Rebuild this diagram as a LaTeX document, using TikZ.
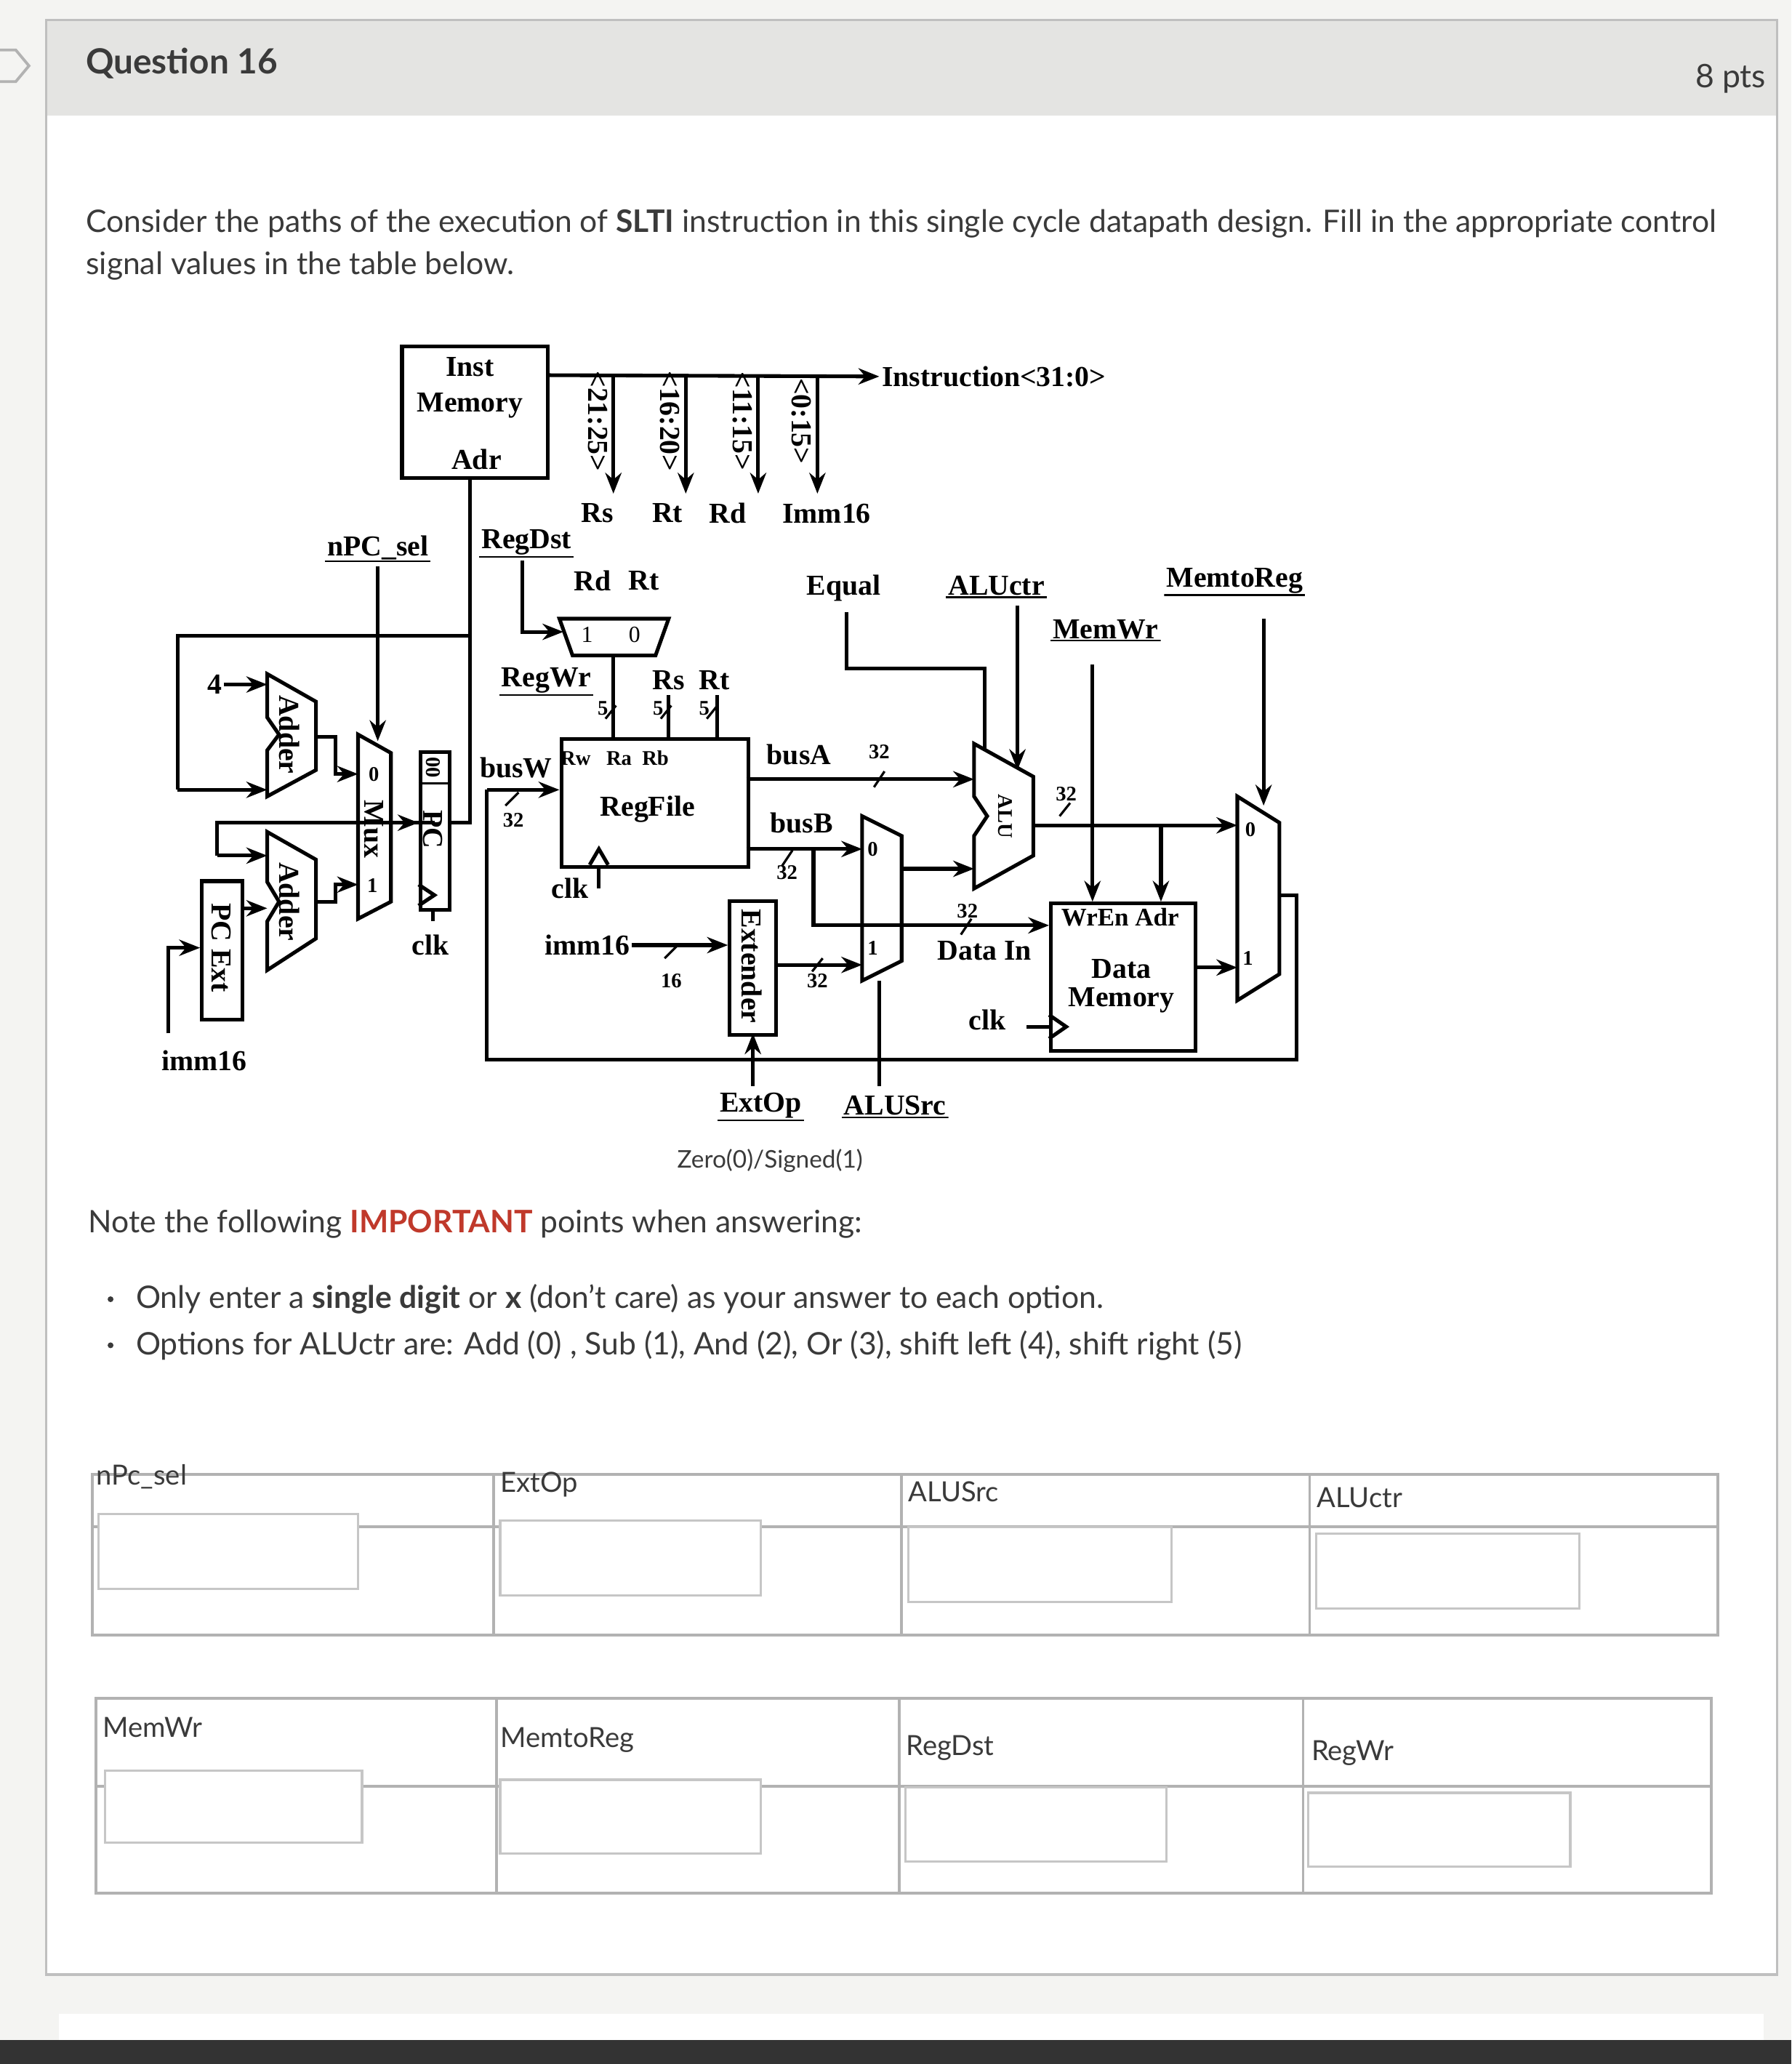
\documentclass[tikz,border=0pt]{standalone}
\usepackage{fontspec}
\setmainfont{Lato}
\newfontfamily\dg{Liberation Serif}
\usetikzlibrary{arrows.meta}
\definecolor{pagebg}{HTML}{F4F4F2}
\definecolor{hdr}{HTML}{E4E4E2}
\definecolor{txt}{HTML}{3A3A3A}
\definecolor{imp}{HTML}{C0392B}
\tikzset{
 w/.style={line width=1.6pt,black},
 ar/.style={w,-{Stealth[length=9pt,width=7pt]}},
 lb/.style={font=\dg\bfseries\fontsize{12.5}{13}\selectfont,inner sep=1pt},
 sm/.style={font=\dg\bfseries\fontsize{9}{10}\selectfont,inner sep=1pt},
 ul/.style={lb,path picture={\draw[w,line width=1.2pt] (path picture bounding box.south west)--(path picture bounding box.south east);}},
 pt/.style={font=\fontsize{13.4}{15}\selectfont,text=txt,inner sep=0pt,anchor=west},
 hd/.style={font=\fontsize{12}{14}\selectfont,text=txt,inner sep=0pt,anchor=west},
 inbox/.style={draw=gray!45,line width=1pt,fill=white},
 tb/.style={draw=gray!60,line width=1.2pt}
}
\begin{document}
\begin{tikzpicture}[x=0.02cm,y=-0.02cm]
\useasboundingbox (0,0) rectangle (1361,1568);
\fill[pagebg] (0,0) rectangle (1361,1568);
\fill[white] (35,15) rectangle (1350,1500);
\fill[hdr] (35,15) rectangle (1350,88);
\draw[gray!50,line width=1pt] (35,15) rectangle (1350,1500);
\draw[gray!60,line width=1.2pt] (0,38)--(12,38)--(22,50)--(12,62)--(0,62);
\fill[black!80] (0,1550) rectangle (1361,1568);
\fill[white] (45,1530) rectangle (1340,1550);
\node[pt,font=\bfseries\fontsize{15}{16}\selectfont] (q) at (65,48) {Question 16};
\node[pt,font=\fontsize{14}{15}\selectfont,anchor=east] (pts) at (1342,60) {8 pts};
\node[pt] (p1) at (65,170) {Consider the paths of the execution of \textbf{SLTI} instruction in this single cycle datapath design. Fill in the appropriate control};
\node[pt] (p2) at (65,202) {signal values in the table below.};

% ---------- diagram ----------
\begin{scope}[font=\dg]
\node[draw,w,minimum width=2.22cm,minimum height=2cm,anchor=north west] (im) at (304,262) {};
\node[lb] (imt) at (357,279) {Inst};
\node[lb] (imm) at (357,308) {Memory};
\node[lb] (ima) at (362,349) {Adr};
\node[lb,anchor=west] (instr) at (668,286) {Instruction<31:0>};
\draw[ar] (415,285)--(instr.west);
\foreach \x/\t in {458/<21:25>,513/<16:20>,568/<11:15>,613/<0:15>}{
 \draw[ar] (\x+8,285)--(\x+8,375);
 \node[lb,rotate=-90] at (\x-4,320) {\t};}
\node[lb] (rs0) at (454,390) {Rs};
\node[lb] (rt0) at (507,390) {Rt};
\node[lb] (rd0) at (553,390) {Rd};
\node[lb] (i16) at (628,390) {Imm16};

\node[ul] (npc) at (287,416) {nPC\_sel};
\node[ul] (regdst) at (400,412) {RegDst};
\node[lb] (rd1) at (450,441) {Rd};
\node[lb] (rt1) at (489,441) {Rt};
\draw[w] (425,470)--(508,470)--(498,498)--(435,498)--cycle;
\node[sm,font=\dg\fontsize{10}{10}\selectfont] at (446,482) {1};
\node[sm,font=\dg\fontsize{10}{10}\selectfont] at (482,482) {0};
\draw[ar] (397,426)--(397,480)--(428,480);
\node[ul] (regwr) at (415,517) {RegWr};
\node[lb] (rsrt) at (525,517) {Rs\ \ Rt};
\foreach \x in {463,505,540}{\node[sm] at (\x-5,538) {5}; \draw[w,line width=1pt] (\x-3,546)--(\x+5,536);}
\draw[w] (466,498)--(466,560); \draw[w] (508,528)--(508,560); \draw[w] (545,528)--(545,560);

\node[draw,w,minimum width=2.84cm,minimum height=1.94cm,anchor=north west] (rf) at (425,560) {};
\node[sm] at (467,576) {Rw\ \ \ Ra\ \ Rb};
\node[lb] (rft) at (492,615) {RegFile};
\draw[w] (448,657)--(455,645)--(462,657);
\node[lb] (clk1) at (433,675) {clk};
\draw[w] (455,657)--(455,675);
\node[lb] (busw) at (392,583) {busW};
\node[sm] at (390,623) {32};
\draw[w,line width=1pt] (384,612)--(394,602);
\draw[ar] (370,600)--(425,600);
\draw[w] (370,600)--(370,805)--(985,805)--(985,680)--(972,680);

% PC loop / Adr
\draw[w] (357,362)--(357,625)--(340,625);
\draw[w] (357,483)--(135,483)--(135,600);
\draw[ar] (135,600)--(203,600);
\draw[w] (287,430)--(287,560);
\draw[ar] (287,540)--(287,563);

% left side
\node[lb] (four) at (163,520) {4};
\draw[ar] (170,520)--(203,520);
\draw[w] (203,512)--(240,533)--(240,585)--(203,605)--(203,570)--(212,558)--(203,545)--cycle;
\node[lb,rotate=-90] at (220,558) {Adder};
\draw[w] (203,632)--(240,653)--(240,713)--(203,737)--(203,700)--(212,685)--(203,670)--cycle;
\node[lb,rotate=-90] at (220,685) {Adder};
\draw[w] (165,650)--(165,625)--(330,625);
\draw[ar] (165,650)--(203,650);
\draw[ar] (240,560)--(255,560)--(255,588)--(272,588);
\draw[ar] (240,685)--(255,685)--(255,672)--(272,672);
\draw[w] (272,558)--(297,572)--(297,685)--(272,698)--cycle;
\node[sm] at (284,588) {0};
\node[lb,rotate=-90] at (284,630) {Mux};
\node[sm] at (283,673) {1};
\draw[ar] (297,625)--(318,625);
\node[draw,w,minimum width=0.44cm,minimum height=2.4cm,anchor=north west] (pc) at (318,570) {};
\node[sm,rotate=-90] at (329,583) {00};
\draw[w,line width=1pt] (318,595)--(340,595);
\node[lb,rotate=-90] at (329,630) {PC};
\draw[w] (318,672)--(330,680)--(318,688);
\draw[w] (329,690)--(329,700);
\node[lb] (clk0) at (327,718) {clk};
\node[draw,w,minimum width=0.62cm,minimum height=2.1cm,anchor=north west] (pcext) at (152,668) {};
\node[lb,rotate=-90] at (168,720) {PC Ext};
\draw[ar] (183,690)--(203,690);
\draw[ar] (128,785)--(128,720)--(152,720);
\node[lb] (imm16a) at (155,806) {imm16};

% extender
\node[lb] (imm16b) at (446,718) {imm16};
\draw[ar] (480,718)--(553,718);
\node[sm] at (510,745) {16}; \draw[w,line width=1pt] (505,728)--(515,718);
\node[draw,w,minimum width=0.7cm,minimum height=2.04cm,anchor=north west] (ext) at (553,683) {};
\node[lb,rotate=-90] at (571,734) {Extender};
\draw[ar] (572,825)--(572,785);
\node[ul] (extop) at (578,840) {ExtOp};
\node[ul] (alusrc) at (680,840) {ALUSrc};
\node[pt,anchor=center,font=\fontsize{10.5}{12}\selectfont] (zs) at (585,882) {Zero(0)/Signed(1)};
\draw[w] (668,745)--(668,825);

% busA busB
\node[lb] (busa) at (607,573) {busA};
\node[sm] at (668,571) {32}; \draw[w,line width=1pt] (664,598)--(672,586);
\draw[ar] (567,592)--(740,592);
\node[lb] (busb) at (609,625) {busB};
\draw[ar] (567,645)--(655,645);
\node[sm] at (598,663) {32}; \draw[w,line width=1pt] (594,658)--(602,646);
\draw[w] (655,620)--(685,635)--(685,730)--(655,745)--cycle;
\node[sm] at (663,645) {0};
\node[sm] at (663,720) {1};
\draw[ar] (588,733)--(655,733);
\node[sm] at (621,745) {32}; \draw[w,line width=1pt] (617,738)--(625,728);
\draw[ar] (685,660)--(740,660);
\draw[ar] (618,645)--(618,703)--(797,703);
\node[sm] at (735,692) {32}; \draw[w,line width=1pt] (730,710)--(738,698);
\node[lb] (datain) at (748,722) {Data In};

% ALU
\draw[w] (740,565)--(785,590)--(785,650)--(740,675)--(740,635)--(750,620)--(740,605)--cycle;
\node[sm,rotate=-90] at (764,620) {ALU};
\node[lb] (equal) at (641,447) {Equal};
\draw[w] (748,570)--(748,508)--(643,508)--(643,465);
\node[ul] (aluctr) at (757,445) {ALUctr};
\draw[ar] (773,460)--(773,585);
\draw[ar] (785,627)--(940,627);
\node[sm] at (810,603) {32}; \draw[w,line width=1pt] (805,620)--(813,610);
\draw[ar] (882,627)--(882,685);
\node[ul] (memwr) at (840,478) {MemWr};
\draw[ar] (830,505)--(830,685);
\node[ul] (memtoreg) at (938,441) {MemtoReg};
\draw[ar] (960,470)--(960,612);

% data memory
\node[draw,w,minimum width=2.2cm,minimum height=2.24cm,anchor=north west] (dm) at (797,685) {};
\node[sm,font=\dg\bfseries\fontsize{11}{11}\selectfont] at (851,697) {WrEn Adr};
\node[lb] at (852,736) {Data};
\node[lb] at (852,760) {Memory};
\node[lb] (clk2) at (750,775) {clk};
\draw[w] (780,780)--(797,780);
\draw[w] (797,771)--(810,780)--(797,789);
\draw[ar] (907,735)--(940,735);
\draw[w] (940,605)--(972,625)--(972,740)--(940,760)--cycle;
\node[sm] at (950,630) {0};
\node[sm] at (948,728) {1};
\end{scope}

% notes
\node[pt] (n1) at (67,930) {Note the following \textbf{\color{imp}IMPORTANT} points when answering:};
\fill[txt] (84,987) circle (2.2);
\fill[txt] (84,1022) circle (2.2);
\node[pt] (b1) at (103,987) {Only enter a \textbf{single digit} or \textbf{x} (don't care) as your answer to each option.};
\node[pt] (b2) at (103,1022) {Options for ALUctr are: Add (0) , Sub (1), And (2), Or (3), shift left (4), shift right (5)};

% table 1
\draw[tb] (70,1120) rectangle (1305,1242);
\draw[tb] (70,1160)--(1305,1160);
\foreach \x in {375,685,995}{\draw[tb] (\x,1120)--(\x,1242);}
\node[hd] at (73,1122) {nPc\_sel};
\node[hd] at (380,1128) {ExtOp};
\node[hd] at (690,1133) {ALUSrc};
\node[hd] at (1000,1138) {ALUctr};
\draw[inbox] (75,1150) rectangle (272,1207);
\draw[inbox] (380,1155) rectangle (578,1212);
\draw[inbox] (690,1160) rectangle (890,1217);
\draw[inbox] (1000,1165) rectangle (1200,1222);
% table 2
\draw[tb] (73,1290) rectangle (1300,1438);
\draw[tb] (73,1357)--(1300,1357);
\foreach \x in {377,683,990}{\draw[tb] (\x,1290)--(\x,1438);}
\node[hd] at (78,1312) {MemWr};
\node[hd] at (380,1322) {MemtoReg};
\node[hd] at (688,1328) {RegDst};
\node[hd] at (996,1332) {RegWr};
\draw[inbox] (80,1345) rectangle (275,1400);
\draw[inbox] (380,1352) rectangle (578,1408);
\draw[inbox] (688,1358) rectangle (886,1414);
\draw[inbox] (994,1362) rectangle (1193,1418);
\end{tikzpicture}
\end{document}
